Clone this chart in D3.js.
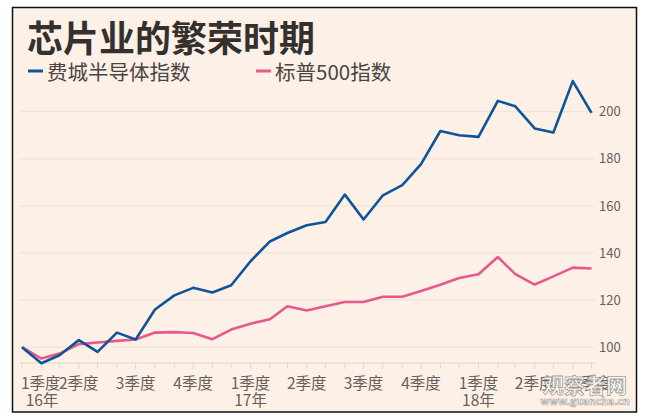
<!DOCTYPE html>
<html>
<head>
<meta charset="UTF-8">
<style>
  body { margin: 0; background: #fff; }
  svg { display: block; font-family: "Noto Sans CJK SC", "Noto Sans", sans-serif; }
  .grid line { stroke: #ece2d7; stroke-width: 1px; }
  .ytick text { fill: #66605c; font-size: 13px; }
  .xtick line { stroke: #e2d8ce; stroke-width: 1px; }
  .xtick text { fill: #66605c; font-size: 15.5px; }
  .series { fill: none; stroke-width: 2.6px; stroke-linejoin: round; }
</style>
</head>
<body>
<script src="https://d3js.org/d3.v7.min.js"></script>
<script>
  let width = 649,
    height = 419;

  // monthly points, Jan 2016 .. Jul 2018 (index, Jan 2016 = 100)
  let months = ["2016-01","2016-02","2016-03","2016-04","2016-05","2016-06","2016-07","2016-08","2016-09","2016-10","2016-11","2016-12",
    "2017-01","2017-02","2017-03","2017-04","2017-05","2017-06","2017-07","2017-08","2017-09","2017-10","2017-11","2017-12",
    "2018-01","2018-02","2018-03","2018-04","2018-05","2018-06","2018-07"];
  let sox = [100, 93.2, 96.6, 103, 98, 106.2, 103.3, 116, 122, 125.2, 123.2, 126.3,
    136.5, 144.9, 148.5, 151.8, 153.2, 164.8, 154.2, 164.5, 168.8, 177.7, 191.8, 190,
    189.3, 204.6, 202.3, 192.9, 191.2, 213, 199.5];
  let spx = [100, 95.2, 97.3, 101.3, 102, 102.7, 103.3, 106.2, 106.4, 106, 103.4, 107.5,
    110, 111.9, 117.4, 115.6, 117.4, 119.2, 119.2, 121.4, 121.4, 123.9, 126.5, 129.4,
    131, 138.3, 131, 126.6, 130.1, 133.8, 133.4];
  let yTicks = [100, 120, 140, 160, 180, 200];
  let quarterMonths = ["2016-01","2016-04","2016-07","2016-10","2017-01","2017-04","2017-07","2017-10","2018-01","2018-04","2018-07"];
  let quarterLabels = ["1季度","2季度","3季度","4季度","1季度","2季度","3季度","4季度","1季度","2季度","3季度"];
  let yearLabels = ["16年","","","","17年","","","","18年","",""];
  let seriesNames = ["费城半导体指数", "标普500指数"];
  let seriesColors = ["#0f5499", "#e9588a"];

  let parse = d3.timeParse("%Y-%m");
  let dates = months.map(parse);

  let svg = d3.select("body").append("svg")
    .attr("width", width)
    .attr("height", height);

  // frame
  svg.append("rect")
    .attr("x", 12.5).attr("y", 7.5)
    .attr("width", 624).attr("height", 404.5)
    .attr("fill", "#fdf0e6")
    .attr("stroke", "#111")
    .attr("stroke-width", 1.5);

  // title
  svg.append("text")
    .attr("x", 27).attr("y", 52)
    .attr("fill", "#33302e")
    .attr("font-size", "36px")
    .attr("font-weight", "bold")
    .text("芯片业的繁荣时期");

  // legend
  let legend = svg.append("g").attr("id", "legend");
  let legendX = [28, 256];
  seriesNames.forEach((name, i) => {
    legend.append("line")
      .attr("x1", legendX[i]).attr("x2", legendX[i] + 15)
      .attr("y1", 71).attr("y2", 71)
      .attr("stroke", seriesColors[i])
      .attr("stroke-width", 3);
    legend.append("text")
      .attr("x", legendX[i] + 19).attr("y", 80)
      .attr("fill", "#4a4542")
      .attr("font-size", "20.5px")
      .text(name);
  });

  let x = d3.scaleTime()
    .domain(d3.extent(dates))
    .range([22, 591.5]);

  let y = d3.scaleLinear()
    .domain([100, 200])
    .range([347.2, 111.7]);

  // horizontal grid + right side labels
  let grid = svg.append("g").attr("class", "grid");
  grid.selectAll("line")
    .data(yTicks)
    .enter()
    .append("line")
    .attr("x1", 19).attr("x2", 595)
    .attr("y1", d => y(d)).attr("y2", d => y(d));

  svg.append("g")
    .attr("class", "ytick")
    .selectAll("text")
    .data(yTicks)
    .enter()
    .append("text")
    .attr("x", 599)
    .attr("y", d => y(d))
    .attr("dy", "0.36em")
    .text(d => d);

  // x axis: baseline with monthly ticks
  let baseY = 363;
  let xt = svg.append("g").attr("class", "xtick");
  xt.append("line")
    .attr("x1", 19).attr("x2", 595)
    .attr("y1", baseY).attr("y2", baseY);
  xt.selectAll("line.m")
    .data(dates)
    .enter()
    .append("line")
    .attr("class", "m")
    .attr("x1", d => x(d)).attr("x2", d => x(d))
    .attr("y1", baseY).attr("y2", baseY + 6);

  quarterMonths.forEach((m, i) => {
    let px = x(parse(m));
    let first = i === 0;
    xt.append("text")
      .attr("x", first ? px - 1 : px)
      .attr("y", 389)
      .attr("text-anchor", first ? "start" : "middle")
      .text(quarterLabels[i]);
    if (yearLabels[i]) {
      xt.append("text")
        .attr("x", first ? px + 20 : px)
        .attr("y", 406)
        .attr("text-anchor", "middle")
        .text(yearLabels[i]);
    }
  });

  // lines
  let line = d3.line()
    .x((d, i) => x(dates[i]))
    .y(d => y(d));

  [spx, sox].forEach((vals, k) => {
    svg.append("path")
      .datum(vals)
      .attr("class", "series")
      .attr("stroke", k === 0 ? seriesColors[1] : seriesColors[0])
      .attr("d", line);
  });

  // watermark
  let wm = svg.append("g").attr("opacity", 0.9);
  wm.append("text")
    .attr("x", 585).attr("y", 393)
    .attr("text-anchor", "middle")
    .attr("font-size", "21px")
    .attr("font-weight", "bold")
    .attr("fill", "#ffffff")
    .attr("stroke", "#9a9590")
    .attr("stroke-width", 0.8)
    .text("观察者网");
  wm.append("text")
    .attr("x", 585).attr("y", 405)
    .attr("text-anchor", "middle")
    .attr("font-size", "10.5px")
    .attr("font-weight", "bold")
    .attr("fill", "#ffffff")
    .attr("stroke", "#9a9590")
    .attr("stroke-width", 0.6)
    .text("www.guancha.cn");
</script>
</body>
</html>
